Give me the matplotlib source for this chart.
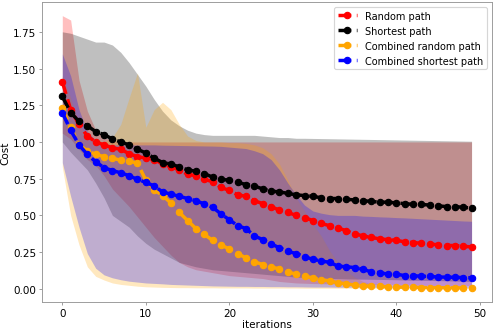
import numpy as np
import matplotlib
matplotlib.use("Agg")
import matplotlib.pyplot as plt

iterations = np.arange(50)

random_path = [
    1.41, 1.22, 1.12, 1.04, 1.00, 0.98, 0.96, 0.95, 0.92, 0.90,
    0.89, 0.88, 0.85, 0.83, 0.81, 0.78, 0.77, 0.745, 0.73, 0.69,
    0.67, 0.64, 0.63, 0.60, 0.58, 0.56, 0.535, 0.52, 0.50, 0.485,
    0.465, 0.445, 0.43, 0.415, 0.395, 0.375, 0.36, 0.35, 0.34, 0.335,
    0.33, 0.32, 0.315, 0.31, 0.305, 0.30, 0.295, 0.295, 0.29, 0.285,
]
random_hi = [
    1.86, 1.83, 1.42, 1.21, 1.08, 1.03, 1.01, 1.0, 1.0, 1.0,
    1.0, 1.0, 1.0, 1.0, 1.0, 1.0, 1.0, 1.0, 1.0, 1.0,
    1.0, 1.0, 1.0, 1.0, 1.0, 1.0, 1.0, 1.0, 1.0, 1.0,
    1.0, 1.0, 1.0, 1.0, 1.0, 1.0, 1.0, 1.0, 1.0, 1.0,
    1.0, 1.0, 1.0, 1.0, 1.0, 1.0, 1.0, 1.0, 1.0, 1.0,
]
random_lo = [
    1.06, 1.02, 0.95, 0.88, 0.84, 0.77, 0.68, 0.62, 0.56, 0.49,
    0.42, 0.35, 0.29, 0.23, 0.18, 0.15, 0.13, 0.12, 0.11, 0.10,
    0.09, 0.085, 0.08, 0.075, 0.07, 0.06, 0.05, 0.045, 0.04, 0.038,
    0.036, 0.035, 0.034, 0.033, 0.032, 0.031, 0.03, 0.029, 0.028, 0.027,
    0.026, 0.025, 0.024, 0.024, 0.023, 0.022, 0.022, 0.021, 0.02, 0.02,
]

shortest_path = [
    1.31, 1.20, 1.14, 1.11, 1.07, 1.05, 1.02, 1.00, 0.98, 0.95,
    0.925, 0.89, 0.86, 0.85, 0.83, 0.81, 0.80, 0.785, 0.76, 0.745,
    0.74, 0.725, 0.71, 0.70, 0.68, 0.665, 0.66, 0.65, 0.64, 0.635,
    0.63, 0.62, 0.615, 0.615, 0.61, 0.605, 0.60, 0.595, 0.59, 0.59,
    0.585, 0.58, 0.575, 0.575, 0.57, 0.565, 0.56, 0.56, 0.555, 0.55,
]
shortest_hi = [
    1.75, 1.74, 1.72, 1.70, 1.68, 1.68, 1.66, 1.61, 1.54, 1.46,
    1.38, 1.29, 1.21, 1.15, 1.11, 1.08, 1.06, 1.05, 1.045, 1.045,
    1.045, 1.045, 1.045, 1.045, 1.04, 1.035, 1.03, 1.03, 1.025, 1.025,
    1.024, 1.023, 1.022, 1.021, 1.02, 1.019, 1.018, 1.017, 1.016, 1.015,
    1.014, 1.013, 1.012, 1.011, 1.01, 1.009, 1.008, 1.007, 1.006, 1.005,
]
shortest_lo = [
    1.00, 0.93, 0.87, 0.81, 0.72, 0.62, 0.50, 0.46, 0.42, 0.36,
    0.31, 0.27, 0.24, 0.21, 0.18, 0.165, 0.15, 0.14, 0.13, 0.125,
    0.12, 0.115, 0.11, 0.105, 0.10, 0.095, 0.09, 0.085, 0.08, 0.078,
    0.075, 0.073, 0.071, 0.07, 0.068, 0.067, 0.066, 0.065, 0.064, 0.063,
    0.062, 0.06, 0.059, 0.058, 0.057, 0.056, 0.055, 0.053, 0.052, 0.05,
]

comb_random_path = [
    1.23, 1.10, 0.98, 0.94, 0.915, 0.90, 0.89, 0.875, 0.87, 0.855,
    0.74, 0.675, 0.635, 0.585, 0.52, 0.465, 0.41, 0.37, 0.33, 0.30,
    0.27, 0.24, 0.21, 0.185, 0.165, 0.15, 0.135, 0.115, 0.10, 0.085,
    0.075, 0.06, 0.055, 0.04, 0.035, 0.025, 0.02, 0.018, 0.016, 0.014,
    0.012, 0.011, 0.01, 0.009, 0.008, 0.008, 0.007, 0.007, 0.006, 0.006,
]
comb_random_hi = [
    1.45, 1.30, 1.12, 1.04, 1.01, 1.0, 1.03, 1.12, 1.30, 1.47,
    1.10, 1.22, 1.27, 1.22, 1.12, 1.04, 1.01, 1.0, 1.0, 1.0,
    0.995, 0.995, 0.99, 0.98, 0.96, 0.92, 0.85, 0.74, 0.62, 0.53,
    0.44, 0.36, 0.26, 0.18, 0.12, 0.08, 0.05, 0.035, 0.03, 0.025,
    0.022, 0.02, 0.019, 0.018, 0.017, 0.016, 0.015, 0.014, 0.013, 0.012,
]
comb_random_lo = [
    0.83, 0.50, 0.30, 0.15, 0.085, 0.06, 0.04, 0.03, 0.024, 0.018,
    0.014, 0.012, 0.01, 0.009, 0.008, 0.008, 0.007, 0.007, 0.007, 0.006,
    0.006, 0.006, 0.006, 0.005, 0.005, 0.005, 0.005, 0.005, 0.005, 0.004,
    0.004, 0.004, 0.004, 0.004, 0.004, 0.004, 0.004, 0.004, 0.004, 0.003,
    0.003, 0.003, 0.003, 0.003, 0.003, 0.003, 0.003, 0.003, 0.003, 0.003,
]

comb_shortest_path = [
    1.20, 1.08, 0.98, 0.915, 0.865, 0.825, 0.805, 0.79, 0.77, 0.745,
    0.725, 0.70, 0.66, 0.645, 0.63, 0.615, 0.60, 0.578, 0.555, 0.51,
    0.47, 0.43, 0.41, 0.36, 0.335, 0.305, 0.28, 0.255, 0.24, 0.22,
    0.20, 0.19, 0.18, 0.155, 0.15, 0.145, 0.133, 0.115, 0.11, 0.10,
    0.10, 0.09, 0.09, 0.085, 0.085, 0.08, 0.08, 0.078, 0.077, 0.075,
]
comb_shortest_hi = [
    1.60, 1.45, 1.22, 1.07, 1.01, 0.99, 0.98, 0.98, 0.98, 0.98,
    0.98, 0.98, 0.978, 0.977, 0.976, 0.975, 0.974, 0.973, 0.972, 0.97,
    0.965, 0.96, 0.955, 0.94, 0.92, 0.88, 0.81, 0.72, 0.64, 0.57,
    0.53, 0.515, 0.505, 0.50, 0.50, 0.50, 0.495, 0.493, 0.49, 0.488,
    0.485, 0.483, 0.48, 0.477, 0.474, 0.471, 0.468, 0.465, 0.462, 0.46,
]
comb_shortest_lo = [
    0.86, 0.63, 0.42, 0.24, 0.14, 0.095, 0.075, 0.062, 0.052, 0.046,
    0.04, 0.037, 0.034, 0.03, 0.028, 0.026, 0.024, 0.022, 0.02, 0.019,
    0.018, 0.017, 0.017, 0.016, 0.016, 0.015, 0.015, 0.014, 0.014, 0.013,
    0.012, 0.012, 0.012, 0.011, 0.011, 0.011, 0.01, 0.01, 0.01, 0.01,
    0.01, 0.01, 0.009, 0.009, 0.009, 0.009, 0.009, 0.008, 0.008, 0.008,
]

series = [
    ("Random path", "red", random_path, random_lo, random_hi),
    ("Shortest path", "black", shortest_path, shortest_lo, shortest_hi),
    ("Combined random path", "orange", comb_random_path, comb_random_lo, comb_random_hi),
    ("Combined shortest path", "blue", comb_shortest_path, comb_shortest_lo, comb_shortest_hi),
]

plt.rcParams["font.size"] = 9

fig, ax = plt.subplots(figsize=(6, 4.012), dpi=83)
fig.subplots_adjust(left=0.084, right=0.988, top=0.991, bottom=0.09)

for label, color, mean, lo, hi in series:
    ax.fill_between(iterations, lo, hi, color=color, alpha=0.25, linewidth=0)

for label, color, mean, lo, hi in series:
    ax.plot(iterations, mean, "--o", color=color, linewidth=3, markersize=5.5, label=label)

ax.set_xlabel("iterations", labelpad=1)
ax.set_ylabel("Cost", labelpad=2)

for spine in ax.spines.values():
    spine.set_color("0.6")
ax.tick_params(color="0.6", length=3, pad=2)

ax.legend(loc="upper right", fontsize=8.5)

fig.savefig("out.png", dpi=83)
